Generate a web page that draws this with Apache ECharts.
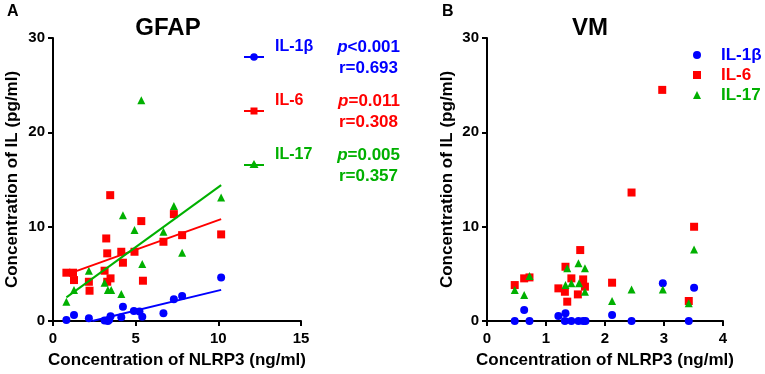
<!DOCTYPE html>
<html>
<head>
<meta charset="utf-8">
<script src="https://cdn.jsdelivr.net/npm/echarts@6/dist/echarts.min.js"></script>
<style>
  html, body { margin: 0; padding: 0; background: #fff; }
  #chart { width: 765px; height: 374px; }
</style>
</head>
<body>
<div id="chart"></div>
<script>
// GFAP panel: [NLRP3 ng/ml, IL pg/ml]
const gfapIL1b = [[0.81,0.1],[1.27,0.64],[2.17,0.28],[3.12,0.04],[3.32,0],[3.4,0.12],[3.48,0.5],[4.13,0.39],[4.23,1.5],[4.89,1.06],[5.23,1.0],[5.4,0.46],[6.68,0.81],[7.31,2.3],[7.81,2.65],[10.17,4.6]];
const gfapIL6 = [[0.81,5.12],[1.21,5.12],[1.27,4.34],[2.17,4.16],[2.21,3.21],[3.12,5.33],[3.22,8.75],[3.28,7.17],[3.28,4.16],[3.46,13.34],[3.48,4.52],[4.13,7.34],[4.23,6.18],[4.93,7.34],[5.34,10.59],[5.44,4.27],[6.68,8.4],[7.31,11.33],[7.81,9.1],[10.17,9.18]];
const gfapIL17 = [[0.81,2.05],[1.27,3.28],[2.17,5.33],[3.12,4.06],[3.32,3.28],[3.52,3.28],[4.13,2.86],[4.23,11.22],[4.93,9.64],[5.34,23.4],[5.4,6.04],[6.68,9.46],[7.31,12.18],[7.81,7.24],[10.17,13.1]];
// regression line end points
const fitIL1b = [[2.38,0],[10.17,3.3]];
const fitIL6 = [[0.81,4.92],[10.17,10.8]];
const fitIL17 = [[0.81,2.5],[10.17,14.4]];

// VM panel
const vmIL1b = [[0.47,0],[0.63,1.16],[0.72,0],[1.21,0.53],[1.33,0.81],[1.32,0],[1.43,0],[1.55,0],[1.63,0],[1.67,0],[2.12,0.64],[2.45,0],[2.98,3.99],[3.42,0],[3.51,3.53]];
const vmIL6 = [[0.47,3.81],[0.63,4.52],[0.72,4.62],[1.21,3.46],[1.33,5.75],[1.32,3.1],[1.36,2.05],[1.43,4.52],[1.54,2.82],[1.58,7.52],[1.63,4.41],[1.66,3.64],[2.12,4.06],[2.45,13.62],[2.97,24.5],[3.42,2.12],[3.51,9.99]];
const vmIL17 = [[0.47,3.28],[0.63,2.75],[0.72,4.77],[1.33,3.81],[1.36,5.58],[1.43,3.99],[1.55,6.11],[1.56,3.99],[1.66,5.58],[1.66,3.1],[2.12,2.12],[2.45,3.35],[2.98,3.35],[3.42,1.87],[3.51,7.59]];

const names = ['IL-1β', 'IL-6', 'IL-17'];
const colors = ['#0000ff', '#ff0000', '#00b000'];
const symbols = ['circle', 'rect', 'triangle'];
const pTexts = ['<0.001', '=0.011', '=0.005'];
const rTexts = ['r=0.693', 'r=0.308', 'r=0.357'];

const chart = echarts.init(document.getElementById('chart'));
const FONT = 'Liberation Sans, Arial, sans-serif';

function axisBase(extra, labelMargin) {
  return Object.assign({
    splitLine: { show: false },
    axisLine: { onZero: false, lineStyle: { color: '#000', width: 2 } },
    axisTick: { lineStyle: { color: '#000', width: 2 }, length: 5 },
    axisLabel: { color: '#000', fontSize: 15, fontWeight: 'bold', fontFamily: FONT, margin: labelMargin },
    nameLocation: 'middle',
    nameTextStyle: { color: '#000', fontSize: 17, fontWeight: 'bold', fontFamily: FONT }
  }, extra);
}

const scatterSeries = [];
[gfapIL1b, gfapIL6, gfapIL17].forEach((d, i) => {
  scatterSeries.push({
    type: 'scatter', name: names[i], xAxisIndex: 0, yAxisIndex: 0,
    data: d, symbol: symbols[i], symbolSize: 8, itemStyle: { color: colors[i], opacity: 1 }
  });
});
[fitIL1b, fitIL6, fitIL17].forEach((d, i) => {
  scatterSeries.push({
    type: 'line', name: 'fit ' + names[i], xAxisIndex: 0, yAxisIndex: 0,
    data: d, symbol: 'none', silent: true, lineStyle: { color: colors[i], width: 2 }
  });
});
[vmIL1b, vmIL6, vmIL17].forEach((d, i) => {
  scatterSeries.push({
    type: 'scatter', name: names[i], xAxisIndex: 1, yAxisIndex: 1,
    data: d, symbol: symbols[i], symbolSize: 8, itemStyle: { color: colors[i], opacity: 1 }
  });
});

// left legend drawn by hand (symbol with line, name, p and r values)
const legendY = [57, 111, 165];
const graphics = [
  { type: 'text', left: 7, top: 4, style: { text: 'A', font: 'bold 16px ' + FONT, fill: '#000' } },
  { type: 'text', left: 442, top: 4, style: { text: 'B', font: 'bold 16px ' + FONT, fill: '#000' } },
  { type: 'text', style: { text: 'GFAP', x: 168, y: 28, textAlign: 'center', textVerticalAlign: 'middle', font: 'bold 24px ' + FONT, fill: '#000' } },
  { type: 'text', style: { text: 'VM', x: 590, y: 28, textAlign: 'center', textVerticalAlign: 'middle', font: 'bold 24px ' + FONT, fill: '#000' } }
];
names.forEach((n, i) => {
  const y = legendY[i];
  graphics.push({ type: 'line', shape: { x1: 244, y1: y, x2: 264, y2: y }, style: { stroke: colors[i], lineWidth: 2 } });
  if (i === 0) graphics.push({ type: 'circle', shape: { cx: 254, cy: y, r: 3.8 }, style: { fill: colors[i] } });
  if (i === 1) graphics.push({ type: 'rect', shape: { x: 250.5, y: y - 3.5, width: 7, height: 7 }, style: { fill: colors[i] } });
  if (i === 2) graphics.push({ type: 'polygon', shape: { points: [[254, y - 5], [258.5, y + 3], [249.5, y + 3]] }, style: { fill: colors[i] } });
  graphics.push({ type: 'text', style: { text: n, x: 275, y: y - 10, textVerticalAlign: 'middle', font: 'bold 16px ' + FONT, fill: colors[i] } });
  graphics.push({ type: 'text', style: {
    text: '{i|p}' + pTexts[i], x: 400, y: y - 10, align: 'right', verticalAlign: 'middle',
    font: 'bold 17px ' + FONT, fill: colors[i],
    rich: { i: { fontStyle: 'italic', fontWeight: 'bold', fontSize: 17, fontFamily: FONT, fill: colors[i] } }
  } });
  graphics.push({ type: 'text', style: { text: rTexts[i], x: 398, y: y + 11, textAlign: 'right', textVerticalAlign: 'middle', font: 'bold 17px ' + FONT, fill: colors[i] } });
});

chart.setOption({
  animation: false,
  backgroundColor: '#fff',
  grid: [
    { left: 53, width: 248, top: 38, bottom: 53 },
    { left: 487, width: 236, top: 38, bottom: 53 }
  ],
  xAxis: [
    axisBase({ type: 'value', gridIndex: 0, min: 0, max: 15, interval: 5, name: 'Concentration of NLRP3 (ng/ml)', nameGap: 31 }, 10),
    axisBase({ type: 'value', gridIndex: 1, min: 0, max: 4, interval: 1, name: 'Concentration of NLRP3 (ng/ml)', nameGap: 31 }, 10)
  ],
  yAxis: [
    axisBase({ type: 'value', gridIndex: 0, min: 0, max: 30, interval: 10, name: 'Concentration of IL (pg/ml)', nameGap: 32 }, 8),
    axisBase({ type: 'value', gridIndex: 1, min: 0, max: 30, interval: 10, name: 'Concentration of IL (pg/ml)', nameGap: 31 }, 8)
  ],
  legend: {
    orient: 'vertical', left: 688, top: 40, itemWidth: 8, itemHeight: 8, itemGap: 0,
    selectedMode: false,
    textStyle: { fontSize: 17, fontWeight: 'bold', fontFamily: FONT, lineHeight: 20, padding: [0, 0, 0, 15] },
    data: names.map((n, i) => ({ name: n, icon: symbols[i], itemStyle: { color: colors[i] }, textStyle: { color: colors[i] } }))
  },
  graphic: graphics,
  series: scatterSeries
});
</script>
</body>
</html>
